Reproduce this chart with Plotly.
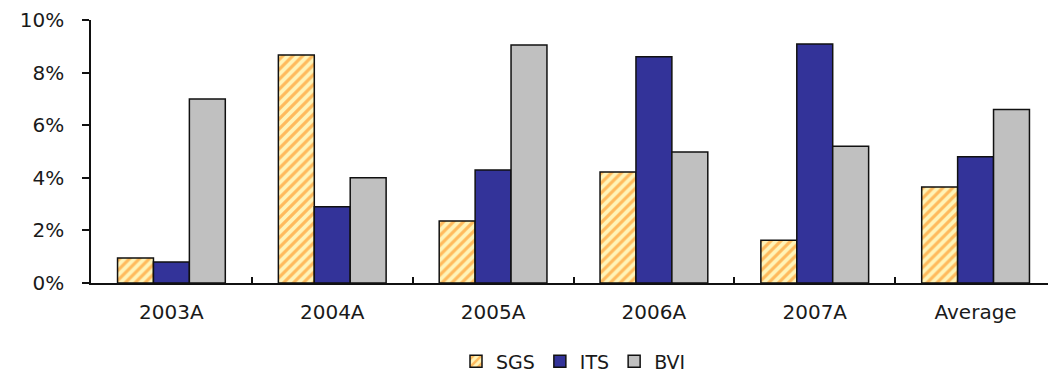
import plotly.graph_objects as go

categories = ["2003A", "2004A", "2005A", "2006A", "2007A", "Average"]
sgs = [0.0095, 0.0867, 0.0236, 0.0422, 0.0163, 0.0365]
its = [0.0080, 0.0290, 0.0430, 0.0860, 0.0909, 0.0480]
bvi = [0.0700, 0.0400, 0.0905, 0.0498, 0.0520, 0.0660]

font = dict(family="DejaVu Sans", size=20, color="#1a1a1a")

fig = go.Figure()
fig.add_trace(go.Bar(
    name="SGS", x=categories, y=sgs,
    marker=dict(color="#FFF4B8",
                pattern=dict(shape="/", fgcolor="#FF7F00", bgcolor="#FFF4B8",
                             size=7, solidity=0.45, fillmode="overlay"),
                line=dict(color="#111111", width=1.5)),
))
fig.add_trace(go.Bar(
    name="ITS", x=categories, y=its,
    marker=dict(color="#333399", line=dict(color="#111111", width=1.5)),
))
fig.add_trace(go.Bar(
    name="BVI", x=categories, y=bvi,
    marker=dict(color="#C0C0C0", line=dict(color="#111111", width=1.5)),
))

fig.update_layout(
    width=1048, height=368,
    margin=dict(l=83, r=0, t=12, b=93, autoexpand=False),
    paper_bgcolor="white", plot_bgcolor="white",
    barmode="group", bargap=0.33, bargroupgap=0,
    font=font,
    showlegend=True,
    legend=dict(orientation="h", x=0.5, xanchor="center",
                yref="container", y=0.04, yanchor="middle",
                font=dict(family="DejaVu Sans", size=19, color="#1a1a1a"),
                traceorder="normal"),
)
fig.update_xaxes(
    showline=True, linecolor="#111111", linewidth=1.5,
    ticks="inside", ticklen=6, tickcolor="#111111", tickwidth=1.5,
    tickson="boundaries", showgrid=False, zeroline=False,
    tickfont=font, ticklabelstandoff=10, automargin=False,
)
fig.update_yaxes(
    range=[0, 0.1], tickvals=[0, 0.02, 0.04, 0.06, 0.08, 0.1],
    tickformat=".0%",
    showline=True, linecolor="#111111", linewidth=1.5,
    ticks="outside", ticklen=7, tickcolor="#111111", tickwidth=1.5,
    showgrid=False, zeroline=False,
    tickfont=font, ticklabelstandoff=14, automargin=False,
)

fig.write_html("out.html")
